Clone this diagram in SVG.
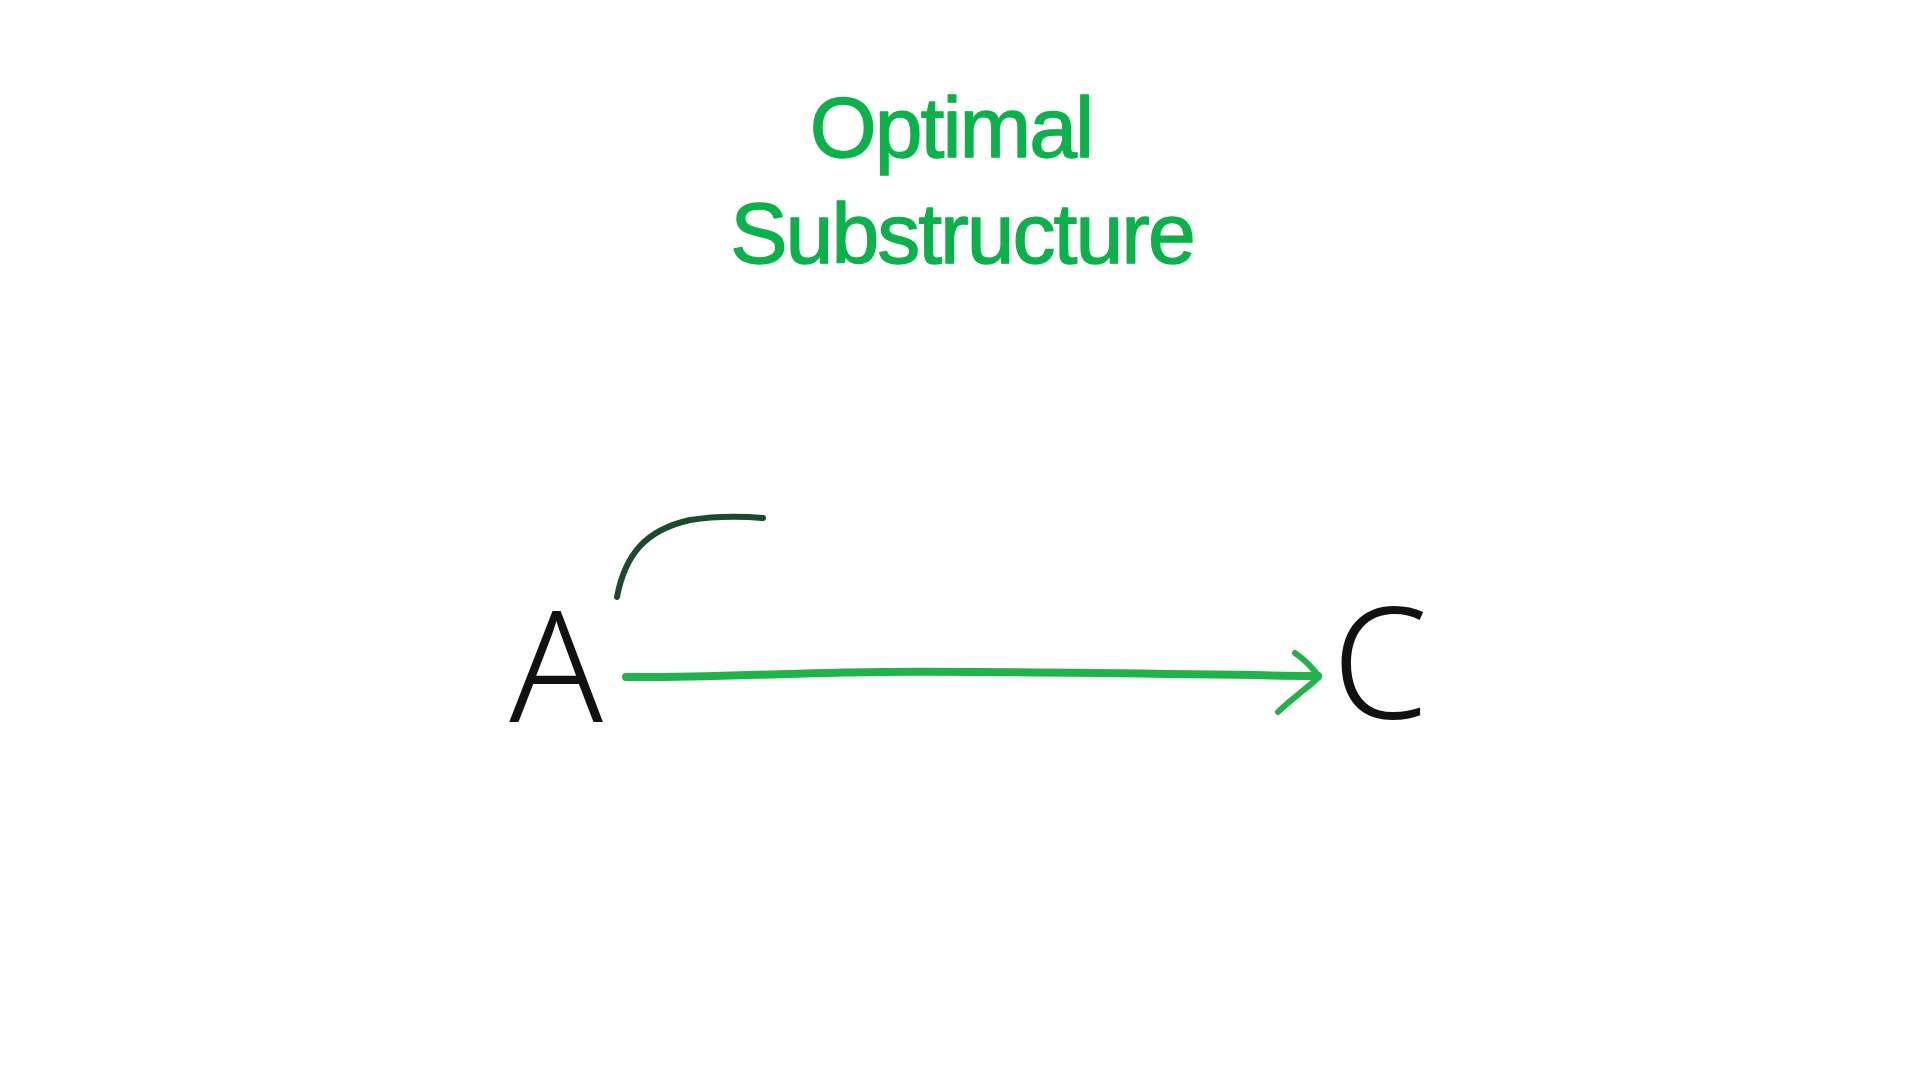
<svg xmlns="http://www.w3.org/2000/svg" width="1920" height="1088" viewBox="0 0 1920 1088">
<style>
.title{font-family:"Liberation Sans",Arial,sans-serif;font-size:86px;fill:#0cb14b;stroke:#0cb14b;stroke-width:1.3px;stroke-linejoin:round;text-anchor:middle;letter-spacing:-2px}
.hand{font-family:"Noto Sans","Open Sans",sans-serif;font-weight:300;font-size:154px;fill:#111;text-anchor:middle}
.ink{fill:none;stroke-linecap:round;stroke-linejoin:round}
</style>
<rect width="1920" height="1088" fill="#ffffff"/>
<g id="title">
<text class="title" x="951" y="157">Optimal</text>
<text class="title" x="962" y="263">Substructure</text>
</g>
<path class="ink" d="M617,597 C625,555 645,530 690,520 C715,516 740,516 763,518" stroke="#1c4a2c" stroke-width="6"/>
<g id="node-A">
<text class="hand" x="556" y="722">A</text>
</g>
<g id="node-C">
<text class="hand" x="1380" y="718">C</text>
</g>
<g id="connectors">
<path class="ink" d="M626,677 C700,678 780,673 880,672 C1000,671 1150,674 1318,676" stroke="#22b24c" stroke-width="8"/>
<path class="ink" d="M1295,653 C1305,660 1313,668 1319,677 C1305,690 1290,700 1278,712" stroke="#22b24c" stroke-width="6"/>
</g>
</svg>
